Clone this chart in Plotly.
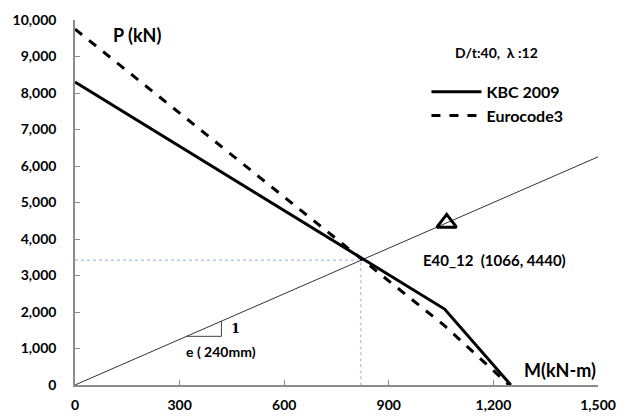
import plotly.graph_objects as go

# Interaction curves (M in kN-m, P in kN)
kbc_m = [0, 1060, 1250]
kbc_p = [8300, 2080, 0]
ec3_m = [0, 1058, 1245]
ec3_p = [9750, 1640, 0]

# Eccentricity line P = M / e
e_m = 0.24
line_m = [0, 1500]
line_p = [m / e_m for m in line_m]

# Specimen point
spec_name = "E40_12"
spec_m = [1066]
spec_p = [4440]

# Crosshair at intersection
cross_m = 820
cross_p = 3420

# slope triangle base positions
tri_m0, tri_m1 = 320, 420

x_ticks = [0, 300, 600, 900, 1200, 1500]
y_ticks = [0, 1000, 2000, 3000, 4000, 5000, 6000, 7000, 8000, 9000, 10000]

FONT = "Lato"
fig = go.Figure()

fig.add_trace(go.Scatter(x=line_m, y=line_p, mode="lines",
                         line=dict(color="#333333", width=1), showlegend=False,
                         hoverinfo="skip"))
fig.add_trace(go.Scatter(x=[0, cross_m, cross_m], y=[cross_p, cross_p, 0], mode="lines",
                         line=dict(color="#8fb3d9", width=1, dash="dot"), showlegend=False,
                         hoverinfo="skip"))
fig.add_trace(go.Scatter(x=[tri_m0, tri_m1, tri_m1],
                         y=[tri_m0 / e_m, tri_m0 / e_m, tri_m1 / e_m], mode="lines",
                         line=dict(color="#444444", width=1), showlegend=False,
                         hoverinfo="skip"))
fig.add_trace(go.Scatter(x=kbc_m, y=kbc_p, mode="lines", name="KBC 2009",
                         line=dict(color="black", width=3)))
fig.add_trace(go.Scatter(x=ec3_m, y=ec3_p, mode="lines", name="Eurocode3",
                         line=dict(color="black", width=3, dash="dash")))
fig.add_trace(go.Scatter(x=spec_m, y=spec_p, mode="markers", showlegend=False,
                         marker=dict(symbol="triangle-up-open", size=17, color="black",
                                     line=dict(width=3, color="black"))))

bold = dict(family=FONT, color="black", weight="bold")
fig.add_annotation(x=0.068, y=0.96, xref="paper", yref="paper", text="P (kN)",
                   showarrow=False, xanchor="left", yanchor="middle",
                   font=dict(size=18, **bold))
fig.add_annotation(x=1.0, y=0.005, xref="paper", yref="paper", text="M(kN-m)",
                   showarrow=False, xanchor="right", yanchor="bottom",
                   font=dict(size=18, **bold))
fig.add_annotation(x=0.889, y=0.91, xref="paper", yref="paper", text="D/t:40,  λ :12",
                   showarrow=False, xanchor="right", yanchor="middle",
                   font=dict(size=14, **bold))
fig.add_annotation(x=spec_m[0] - 75, y=spec_p[0] - 1020, text=f"{spec_name}  ({spec_m[0]}, {spec_p[0]})",
                   showarrow=False, xanchor="left", yanchor="middle",
                   font=dict(size=15, **bold))
fig.add_annotation(x=tri_m1 + 22, y=(tri_m0 / e_m + tri_m1 / e_m) / 2, text="<b>1</b>",
                   showarrow=False, xanchor="left", yanchor="middle",
                   font=dict(size=13, family="DejaVu Serif", color="black"))
fig.add_annotation(x=tri_m1, y=tri_m0 / e_m - 420, text="e ( 240mm)",
                   showarrow=False, xanchor="center", yanchor="middle",
                   font=dict(size=14, **bold))

axis_common = dict(showgrid=False, zeroline=False, showline=True, linecolor="#8c8c8c",
                   linewidth=1.5, ticks="inside", ticklen=5, tickcolor="#8c8c8c",
                   tickfont=dict(size=14, **bold), tickformat=",",
                   ticklabeloverflow="allow")
fig.update_xaxes(range=[0, 1500], tickvals=x_ticks, ticklabelstandoff=6, **axis_common)
fig.update_yaxes(range=[0, 10000], tickvals=y_ticks, ticklabelstandoff=14, **axis_common)

fig.update_layout(
    width=620, height=408,
    margin=dict(l=67, r=30, t=3, b=30),
    plot_bgcolor="white", paper_bgcolor="white",
    legend=dict(x=0.672, y=0.85, xanchor="left", yanchor="top",
                bgcolor="rgba(0,0,0,0)", font=dict(size=16, **bold),
                itemwidth=50, tracegroupgap=0),
)

fig.write_html("out.html")
